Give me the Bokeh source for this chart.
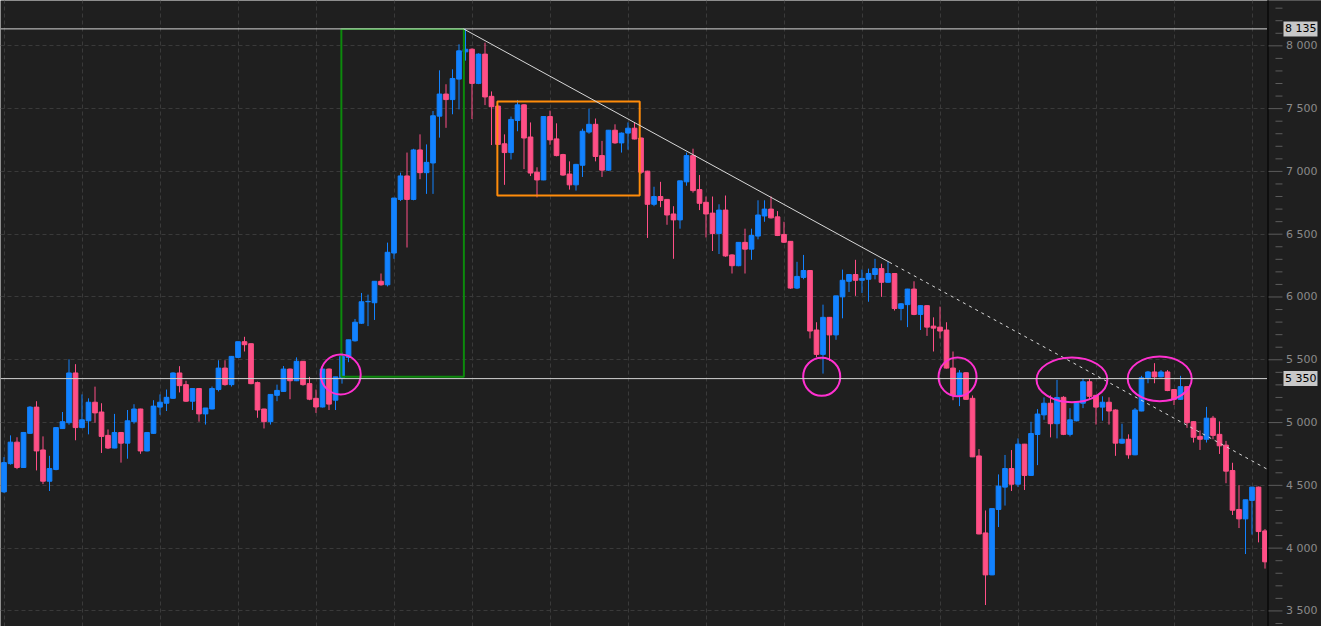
from bokeh.plotting import figure
from bokeh.models import ColumnDataSource, FixedTicker, Range1d, SingleIntervalTicker
from bokeh.core.properties import value
from bokeh.embed import file_html
from bokeh.resources import INLINE

opens = [4448, 4673, 4844, 4642, 4914, 5123, 4782, 4533, 4626, 4952,
         4999, 5395, 4960, 5014, 5162, 5084, 4898, 4797, 4921, 4836,
         5007, 5108, 4774, 4914, 5123, 5154, 5193, 5395, 5302, 5170,
         5271, 5069, 5108, 5263, 5434, 5302, 5519, 5644, 5628, 5318,
         5108, 5007, 5217, 5248, 5426, 5333, 5488, 5310, 5193, 5124,
         5426, 5178, 5356, 5519, 5651, 5791, 5962, 5954, 6125, 6097,
         6350, 6777, 6964, 6777, 7171, 6990, 7067, 7440, 7616, 7572,
         7735, 7952, 7973, 7701, 7934, 7598, 7520, 7220, 7150, 7406,
         7530, 7274, 6994, 6932, 7437, 7259, 7134, 6979, 6893, 7049,
         7313, 7375, 7126, 7010, 7328, 7227, 7305, 7344, 7266, 7002,
         6738, 6800, 6777, 6661, 6614, 6917, 7126, 6855, 6754, 6668,
         6505, 6692, 6335, 6249, 6435, 6381, 6485, 6645, 6700, 6638,
         6498, 6443, 6071, 6156, 6211, 5737, 5543, 5838, 5698, 6001,
         6125, 6179, 6133, 6141, 6179, 6226, 6117, 6187, 5908, 5939,
         6063, 5861, 5931, 5768, 5760, 5737, 5434, 5217, 5397, 5193,
         4734, 4121, 3787, 4308, 4486, 4634, 4509, 4828, 4579, 4905,
         5061, 5154, 4991, 5201, 4906, 5014, 5154, 5325, 5217, 5123,
         5162, 5100, 4836, 4867, 4743, 5092, 5356, 5403, 5364, 5403,
         5263, 5185, 5286, 5007, 4890, 4867, 5035, 4906, 4820, 4618,
         4308, 4233, 4380, 4486, 4137]

highs = [4725, 4898, 4883, 4925, 5131, 5170, 4890, 4735, 4960, 5084,
         5504, 5465, 5224, 5193, 5286, 5154, 4945, 5069, 4925, 5100,
         5146, 5110, 4925, 5178, 5224, 5263, 5400, 5449, 5333, 5275,
         5275, 5116, 5287, 5496, 5496, 5530, 5644, 5683, 5630, 5326,
         5110, 5224, 5302, 5450, 5430, 5519, 5490, 5364, 5263, 5426,
         5430, 5364, 5558, 5659, 5825, 6032, 6019, 6125, 6187, 6433,
         6788, 6990, 7150, 7180, 7295, 7215, 7481, 7805, 7694, 7813,
         8012, 8135, 7980, 7940, 8025, 7637, 7525, 7295, 7437, 7569,
         7535, 7390, 7033, 7440, 7484, 7383, 7140, 7080, 7060, 7340,
         7499, 7421, 7243, 7330, 7375, 7310, 7390, 7390, 7270, 7005,
         6878, 6917, 6780, 6723, 6925, 7150, 7181, 6971, 6800, 6800,
         6738, 6808, 6340, 6435, 6544, 6544, 6770, 6770, 6801, 6684,
         6599, 6445, 6280, 6335, 6215, 5799, 5939, 5840, 6009, 6218,
         6180, 6296, 6218, 6226, 6304, 6265, 6280, 6190, 5950, 6065,
         6125, 5935, 5935, 5838, 5923, 5799, 5566, 5418, 5400, 5216,
         4789, 4300, 4315, 4587, 4742, 4781, 4874, 4830, 5006, 5107,
         5200, 5216, 5340, 5210, 5115, 5165, 5348, 5348, 5220, 5209,
         5201, 5105, 4991, 4906, 5116, 5372, 5411, 5473, 5418, 5418,
         5265, 5372, 5290, 5010, 4937, 5125, 5053, 5009, 4854, 4680,
         4502, 4385, 4486, 4490, 4152]

lows = [4440, 4665, 4629, 4640, 4910, 4619, 4510, 4455, 4620, 4950,
        4983, 4859, 4955, 4906, 4999, 4758, 4789, 4795, 4681, 4712,
        4991, 4751, 4770, 4910, 5061, 5092, 5190, 5240, 5165, 5100,
        5007, 4984, 5105, 5248, 5294, 5287, 5515, 5566, 5305, 5038,
        4953, 4984, 5170, 5245, 5186, 5330, 5294, 5178, 5077, 5120,
        5100, 5100, 5310, 5481, 5645, 5785, 5768, 5817, 6090, 6084,
        6304, 6764, 6394, 6770, 6938, 6821, 6821, 7269, 7347, 7455,
        7494, 7882, 7417, 7695, 7528, 7210, 7212, 6893, 7095, 7320,
        7018, 6963, 6793, 6930, 7212, 7120, 6965, 6855, 6847, 6956,
        7300, 7080, 6956, 7005, 7220, 7150, 7173, 7255, 6979, 6470,
        6723, 6715, 6575, 6304, 6544, 6886, 6831, 6692, 6474, 6366,
        6342, 6320, 6187, 6245, 6187, 6296, 6459, 6599, 6625, 6485,
        6430, 6065, 6063, 6141, 5670, 5520, 5390, 5490, 5659, 5830,
        6040, 6009, 6032, 5962, 6140, 6001, 6115, 5892, 5814, 5760,
        5855, 5737, 5690, 5566, 5670, 5430, 5178, 5131, 5180, 4725,
        4110, 3547, 3785, 4168, 4339, 4455, 4486, 4463, 4575, 4661,
        5022, 4882, 4874, 4900, 4890, 5010, 5115, 5185, 4984, 5015,
        4984, 4735, 4830, 4712, 4740, 5090, 5313, 5313, 5360, 5250,
        5139, 5180, 4958, 4841, 4782, 4841, 4867, 4750, 4517, 4264,
        4160, 3953, 4108, 4046, 3837]

closes = [4681, 4844, 4642, 4921, 5123, 4774, 4533, 4634, 4960, 5007,
          5395, 4960, 5022, 5162, 5077, 4890, 4797, 4921, 4836, 5014,
          5108, 4774, 4921, 5131, 5162, 5201, 5395, 5294, 5170, 5271,
          5069, 5116, 5271, 5434, 5302, 5527, 5644, 5620, 5310, 5100,
          5007, 5224, 5256, 5426, 5333, 5488, 5302, 5186, 5124, 5426,
          5147, 5364, 5527, 5659, 5799, 5962, 5965, 6125, 6097, 6356,
          6788, 6964, 6777, 7171, 6990, 7072, 7443, 7616, 7572, 7740,
          7960, 7973, 7701, 7934, 7593, 7515, 7215, 7150, 7414, 7530,
          7266, 6987, 6932, 7437, 7251, 7126, 6971, 6893, 7056, 7320,
          7375, 7119, 7010, 7328, 7227, 7305, 7344, 7258, 6994, 6738,
          6800, 6769, 6653, 6614, 6925, 7126, 6847, 6746, 6661, 6505,
          6692, 6327, 6249, 6435, 6381, 6490, 6653, 6700, 6630, 6490,
          6436, 6071, 6164, 6211, 5729, 5543, 5838, 5698, 6009, 6133,
          6179, 6133, 6148, 6187, 6226, 6117, 6187, 5908, 5946, 6063,
          5861, 5931, 5760, 5752, 5729, 5434, 5217, 5395, 5185, 4727,
          4113, 3787, 4315, 4494, 4634, 4509, 4828, 4579, 4913, 5068,
          5154, 4991, 5200, 4906, 5022, 5162, 5325, 5209, 5123, 5162,
          5092, 4836, 4867, 4743, 5100, 5356, 5403, 5364, 5403, 5255,
          5185, 5286, 4999, 4883, 4867, 5035, 4898, 4815, 4613, 4302,
          4233, 4385, 4486, 4132, 3891]

# price scale (right-hand axis)
TICK_VALUES = [3500, 4000, 4500, 5000, 5500, 6000, 6500, 7000, 7500, 8000]
TICK_LABELS = ["3 500", "4 000", "4 500", "5 000", "5 500", "6 000", "6 500",
               "7 000", "7 500", "8 000"]
MINOR_STEP = 100

# horizontal levels and marked-up annotations (candle index / price units)
LEVELS = [8135, 5350]
LEVEL_TEXT = ["8 135", "5 350"]
GREEN_BOX = dict(left=51.9, right=70.75, top=8135, bottom=5365)
ORANGE_BOX = dict(left=75.9, right=97.8, top=7556, bottom=6808)
TREND_X = [70.7, 136.2, 194.4]
TREND_Y = [8135, 6277, 4627]
ELL_X = [51.8, 125.8, 146.7, 164.3, 177.8]
ELL_Y = [5383, 5365, 5364, 5340, 5348]
ELL_W = [6.15, 5.7, 5.85, 10.9, 9.85]
ELL_H = [318, 303, 310, 357, 357]

UP = "#1282ff"
DOWN = "#ff4f86"
BG = "#1f1f1f"
YMIN, YMAX = 3376, 8361
W, H = 1321, 626
PX = 6.5                 # pixels per candle
X0 = -0.54               # left edge of the plot (candle units)
X1 = X0 + W / PX
AX_X = 194.38            # where the price scale starts (candle units)


def px(d):
    return AX_X + d / PX


n = len(opens)
xs = list(range(n))
colors = [UP if c >= o else DOWN for o, c in zip(opens, closes)]
tops = [max(o, c) for o, c in zip(opens, closes)]
bots = [min(o, c) for o, c in zip(opens, closes)]
src = ColumnDataSource(dict(x=xs, high=highs, low=lows, top=tops, bot=bots, color=colors))

p = figure(width=W, height=H, x_range=Range1d(X0, X1), y_range=Range1d(YMIN, YMAX),
           output_backend="svg", toolbar_location=None,
           background_fill_color=BG, border_fill_color=BG,
           min_border_left=0, min_border_top=0, min_border_bottom=0, min_border_right=0)
p.outline_line_color = None
p.xaxis.visible = False
p.yaxis.visible = False

p.xgrid.ticker = FixedTicker(ticks=list(range(0, n, 12)))
p.ygrid.ticker = FixedTicker(ticks=TICK_VALUES)
for g in (p.xgrid, p.ygrid):
    g.grid_line_color = "#3a3a3a"
    g.grid_line_dash = "4 3"

# price-scale panel background (hides the grid there)
p.quad(left=[AX_X], right=[X1 + 1], bottom=[YMIN - 100], top=[YMAX + 100],
       fill_color=BG, line_color=None)

# candles
p.segment(x0="x", y0="low", x1="x", y1="high", line_color="color", line_width=1, source=src)
p.vbar(x="x", width=0.72, top="top", bottom="bot", fill_color="color",
       line_color="color", line_width=1, source=src)

# annotations
p.quad(left=[GREEN_BOX["left"]], right=[GREEN_BOX["right"]], top=[GREEN_BOX["top"]],
       bottom=[GREEN_BOX["bottom"]], fill_color=None, line_color="#0c8a0c", line_width=2)
p.quad(left=[ORANGE_BOX["left"]], right=[ORANGE_BOX["right"]], top=[ORANGE_BOX["top"]],
       bottom=[ORANGE_BOX["bottom"]], fill_color=None, line_color="#ff8c0a", line_width=2)

p.line(TREND_X[:2], TREND_Y[:2], line_color="#d8d8d8", line_width=1)
p.line(TREND_X[1:], TREND_Y[1:], line_color="#d8d8d8", line_width=1, line_dash="3 4")

p.ellipse(x=ELL_X, y=ELL_Y, width=ELL_W, height=ELL_H, fill_color=None,
          line_color="#ff30d0", line_width=2)

p.segment(x0=[X0] * len(LEVELS), x1=[AX_X] * len(LEVELS), y0=LEVELS, y1=LEVELS,
          line_color="#d4d4d4", line_width=1)

# price scale: axis line, ticks, labels
p.segment(x0=[AX_X + 0.08], x1=[AX_X + 0.08], y0=[YMIN - 100], y1=[YMAX + 100],
          line_color="#0e0e0e", line_width=2)
minor_vals = [v for v in range(3400, 8400, MINOR_STEP) if v not in TICK_VALUES]
p.segment(x0=[px(1)] * len(TICK_VALUES), x1=[px(15)] * len(TICK_VALUES),
          y0=TICK_VALUES, y1=TICK_VALUES, line_color="#5c5c5c", line_width=1)
p.segment(x0=[px(8)] * len(minor_vals), x1=[px(15)] * len(minor_vals),
          y0=minor_vals, y1=minor_vals, line_color="#5c5c5c", line_width=1)
p.text(x=[px(18.5)] * len(TICK_VALUES), y=TICK_VALUES, text=TICK_LABELS,
       text_color="#8a8a8a", text_font=value("DejaVu Sans"), text_font_size="11px",
       text_baseline="middle", text_align="left")

p.rect(x=[px(33)] * len(LEVELS), y=LEVELS, width=34, height=15,
       width_units="screen", height_units="screen", fill_color="#c8c8c8", line_color=None)
p.text(x=[px(17.5)] * len(LEVELS), y=LEVELS, text=LEVEL_TEXT,
       text_color="#000000", text_font=value("DejaVu Sans"), text_font_size="11px",
       text_baseline="middle", text_align="left")

open("out.html", "w").write(file_html(p, INLINE))
